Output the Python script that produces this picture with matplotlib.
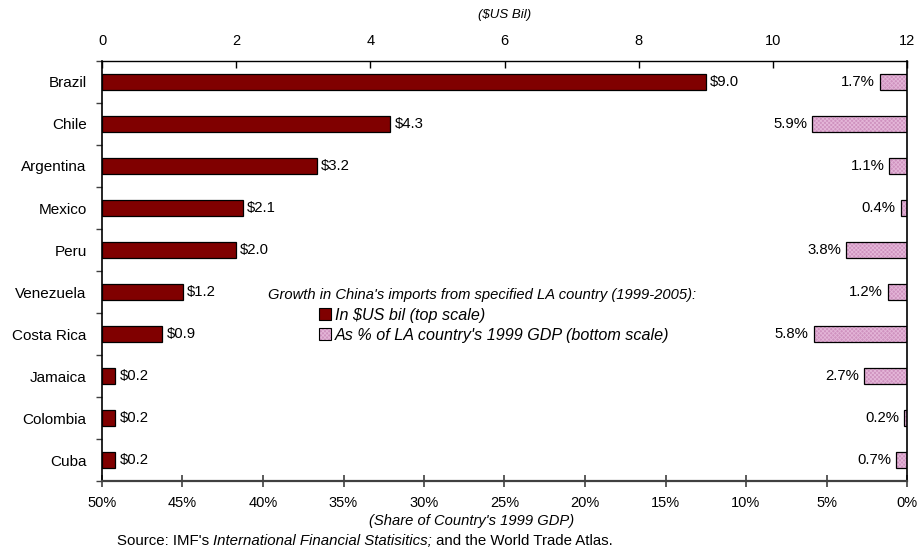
import matplotlib
matplotlib.use("Agg")
import matplotlib.pyplot as plt
from matplotlib.patches import Patch

plt.rcParams['font.family'] = ['Liberation Sans', 'DejaVu Sans']
plt.rcParams['hatch.linewidth'] = 0.6

countries = ["Brazil", "Chile", "Argentina", "Mexico", "Peru", "Venezuela",
             "Costa Rica", "Jamaica", "Colombia", "Cuba"]
usd_bil = [9.0, 4.3, 3.2, 2.1, 2.0, 1.2, 0.9, 0.2, 0.2, 0.2]
usd_labels = ["$9.0", "$4.3", "$3.2", "$2.1", "$2.0", "$1.2", "$0.9", "$0.2", "$0.2", "$0.2"]
pct_gdp = [1.7, 5.9, 1.1, 0.4, 3.8, 1.2, 5.8, 2.7, 0.2, 0.7]
top_ticks = [0, 2, 4, 6, 8, 10, 12]
bottom_ticks = [50, 45, 40, 35, 30, 25, 20, 15, 10, 5, 0]

DARK = "#800000"
PINK = "#cf92bf"
HATCHC = "#e4b6d8"
HATCH = "xxxxxxxx"
FS = 10

fig = plt.figure(figsize=(9.17, 5.52), dpi=100)
ax = fig.add_axes([102/917, 1-481/552, 805/917, 420/552])
ypos = list(range(len(countries)))

# bottom axis: % of GDP (reversed)
ax.set_xlim(50, 0)
ax.set_ylim(len(countries)-0.5, -0.5)
ax.barh(ypos, pct_gdp, height=0.4, color=PINK, edgecolor=HATCHC, hatch=HATCH, linewidth=0, zorder=2)
ax.barh(ypos, pct_gdp, height=0.4, fill=False, edgecolor="black", linewidth=0.9, zorder=3)
for y, v in zip(ypos, pct_gdp):
    ax.text(v + 0.3, y, f"{v:.1f}%", ha="right", va="center", fontsize=10.7)
ax.set_xticks(bottom_ticks)
ax.set_xticklabels([f"{t}%" for t in bottom_ticks], fontsize=FS + 0.5)
ax.tick_params(axis="x", direction="inout", length=9, width=1.2, color="#404040", pad=6)
ax.set_yticks(ypos)
ax.set_yticklabels(countries, fontsize=FS + 1)
ax.tick_params(axis="y", which="major", length=0, pad=11)
ax.set_yticks([i - 0.5 for i in range(len(countries) + 1)], minor=True)
ax.tick_params(axis="y", which="minor", direction="out", length=4, width=1.0, color="#404040")
ax.spines["bottom"].set_linewidth(1.6)
ax.spines["bottom"].set_color("#404040")
ax.spines["left"].set_linewidth(1.2)
ax.spines["right"].set_linewidth(1.2)
ax.spines["top"].set_linewidth(1.0)
fig.text(472/917, 1-521/552, "(Share of Country's 1999 GDP)", fontsize=10.6, style="italic",
         ha="center", va="center")

# top axis: $US bil
ax2 = ax.twiny()
ax2.set_xlim(0, 12)
ax2.barh(ypos, usd_bil, height=0.4, color=DARK, edgecolor="black", linewidth=0.9, zorder=3)
for y, v, lab in zip(ypos, usd_bil, usd_labels):
    ax2.text(v + 0.06, y, lab, ha="left", va="center", fontsize=10.7)
ax2.set_xticks(top_ticks)
ax2.set_xticklabels([str(t) for t in top_ticks], fontsize=FS + 0.5)
ax2.tick_params(axis="x", direction="in", length=5, width=1.0, pad=9)
ax2.set_xlabel("($US Bil)", fontsize=9.5, style="italic", labelpad=12)
for s in ax2.spines.values():
    s.set_visible(False)

# legend
fig.text(268/917, 1-295/552, "Growth in China's imports from specified LA country (1999-2005):",
         fontsize=10.6, style="italic", ha="left", va="center")
h1 = Patch(facecolor=DARK, edgecolor="black", linewidth=0.8)
h2 = (Patch(facecolor=PINK, edgecolor=HATCHC, hatch=HATCH, linewidth=0),
      Patch(fill=False, edgecolor="black", linewidth=0.8))
fig.legend(handles=[h1, h2],
           labels=["In $US bil (top scale)", "As % of LA country's 1999 GDP (bottom scale)"],
           loc="upper left", bbox_to_anchor=(319/917, 1-308/552), frameon=False,
           prop={"size": 11.6, "style": "italic"}, handlelength=0.75, handleheight=0.75,
           handletextpad=0.25, labelspacing=0.3, borderpad=0, borderaxespad=0)

# source line with mixed styles
fig.canvas.draw()
r = fig.canvas.get_renderer()
x0 = 117/917
yv = 1-541/552
parts = [("Source: IMF's ", "normal"), ("International Financial Statisitics;", "italic"),
         (" and the World Trade Atlas.", "normal")]
for txt, st in parts:
    t = fig.text(x0, yv, txt, fontsize=10.8, style=st, ha="left", va="center")
    bb = t.get_window_extent(renderer=r)
    x0 += bb.width / fig.bbox.width

fig.savefig("out.png", dpi=100)
